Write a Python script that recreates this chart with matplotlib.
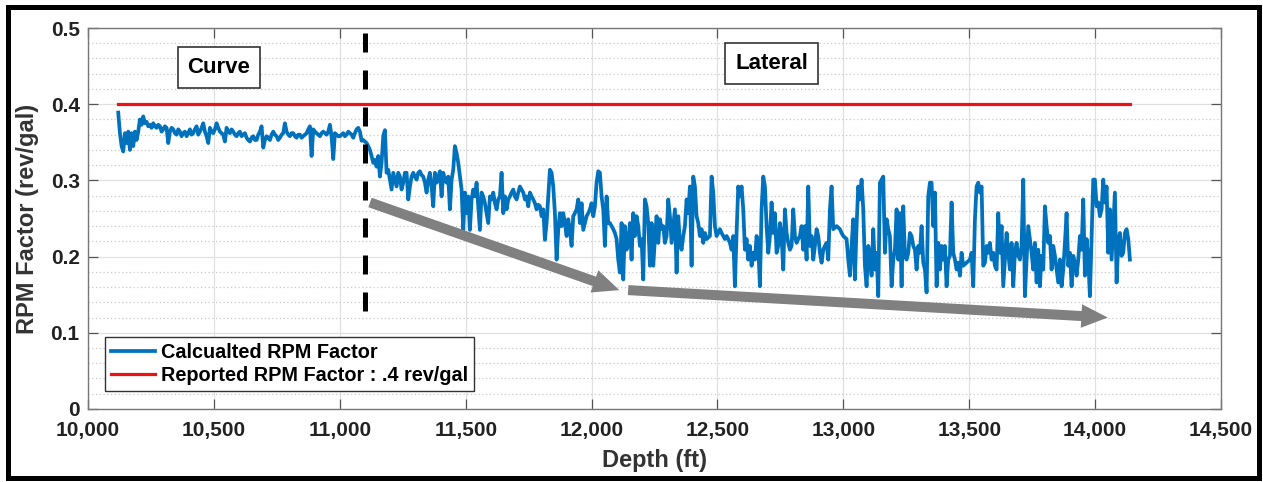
import numpy as np
import matplotlib.pyplot as plt
from matplotlib.patches import Rectangle
from matplotlib.ticker import FuncFormatter, MultipleLocator

# RPM factor, evenly spaced in depth (curve + lateral)
rpm_curve = [
    0.389, 0.362, 0.345, 0.338, 0.362, 0.349, 0.364, 0.340, 0.362, 0.345,
    0.364, 0.353, 0.364, 0.380, 0.373, 0.384, 0.375, 0.377, 0.371, 0.373,
    0.369, 0.375, 0.371, 0.369, 0.373, 0.371, 0.364, 0.367, 0.371, 0.369,
    0.349, 0.364, 0.369, 0.367, 0.362, 0.360, 0.367, 0.364, 0.358, 0.362,
    0.364, 0.358, 0.362, 0.367, 0.360, 0.362, 0.367, 0.371, 0.360, 0.364,
    0.369, 0.375, 0.364, 0.358, 0.349, 0.369, 0.364, 0.362, 0.367, 0.375,
    0.369, 0.364, 0.362, 0.360, 0.351, 0.369, 0.364, 0.362, 0.367, 0.364,
    0.360, 0.358, 0.362, 0.364, 0.358, 0.360, 0.362, 0.356, 0.353, 0.351,
    0.356, 0.358, 0.353, 0.353, 0.360, 0.364, 0.371, 0.343, 0.353, 0.358,
    0.356, 0.353, 0.360, 0.364, 0.360, 0.358, 0.353, 0.356, 0.360, 0.362,
    0.375, 0.364, 0.360, 0.358, 0.362, 0.362, 0.358, 0.356, 0.360, 0.360,
    0.356, 0.358, 0.360, 0.362, 0.367, 0.371, 0.332, 0.367, 0.364, 0.362,
    0.360, 0.358, 0.362, 0.364, 0.362, 0.360, 0.364, 0.373, 0.358, 0.328,
    0.362, 0.360, 0.358, 0.358, 0.360, 0.362, 0.358, 0.360, 0.364, 0.362,
    0.360, 0.356, 0.362, 0.367, 0.369, 0.364, 0.352,
]
rpm_lateral_1 = [
    0.353, 0.351, 0.349, 0.345, 0.340, 0.332, 0.323, 0.327, 0.318, 0.332,
    0.305, 0.323, 0.358, 0.366, 0.310, 0.314, 0.301, 0.288, 0.310, 0.301,
    0.292, 0.310, 0.305, 0.288, 0.297, 0.310, 0.310, 0.275, 0.292, 0.305,
    0.310, 0.305, 0.301, 0.310, 0.312, 0.307, 0.305, 0.297, 0.284, 0.301,
    0.310, 0.292, 0.266, 0.310, 0.297, 0.305, 0.312, 0.279, 0.310, 0.301,
    0.297, 0.305, 0.262, 0.301, 0.314, 0.345, 0.336, 0.323, 0.305, 0.288,
    0.235, 0.284, 0.257, 0.279, 0.235, 0.275, 0.288, 0.279, 0.297, 0.266,
    0.235, 0.284, 0.279, 0.270, 0.257, 0.244, 0.279, 0.275, 0.284, 0.270,
    0.262, 0.275, 0.279, 0.310, 0.257, 0.279, 0.262, 0.275, 0.279, 0.284,
    0.288, 0.279, 0.275, 0.284, 0.292, 0.288, 0.284, 0.275, 0.279, 0.266,
    0.284, 0.279, 0.275, 0.270, 0.262, 0.268, 0.266, 0.253, 0.262, 0.222,
    0.244, 0.279, 0.314, 0.310, 0.292, 0.257, 0.196, 0.235, 0.257, 0.240,
    0.257, 0.244, 0.227, 0.249, 0.235, 0.214, 0.253, 0.257, 0.262, 0.275,
    0.244, 0.270, 0.235, 0.244, 0.253, 0.257, 0.262, 0.270, 0.253, 0.266,
    0.297, 0.312, 0.310, 0.279, 0.262, 0.214, 0.279, 0.244,
]
rpm_lateral_2 = [
    0.244, 0.240, 0.236, 0.231, 0.223, 0.196, 0.179, 0.244, 0.170, 0.240,
    0.209, 0.218, 0.244, 0.196, 0.257, 0.227, 0.253, 0.240, 0.214, 0.223,
    0.170, 0.275, 0.266, 0.244, 0.188, 0.244, 0.188, 0.223, 0.253, 0.218,
    0.249, 0.236, 0.240, 0.218, 0.227, 0.275, 0.253, 0.218, 0.240, 0.262,
    0.179, 0.253, 0.218, 0.209, 0.227, 0.240, 0.275, 0.257, 0.292, 0.188,
    0.305, 0.292, 0.253, 0.244, 0.227, 0.236, 0.218, 0.231, 0.223, 0.225,
    0.227, 0.305, 0.284, 0.240, 0.227, 0.231, 0.236, 0.231, 0.227, 0.223,
    0.227, 0.223, 0.218, 0.209, 0.227, 0.161, 0.231, 0.292, 0.279, 0.292,
    0.262, 0.209, 0.223, 0.196, 0.214, 0.188, 0.205, 0.196, 0.227, 0.214,
    0.161, 0.262, 0.305, 0.292, 0.240, 0.205, 0.227, 0.271, 0.231, 0.257,
    0.205, 0.214, 0.244, 0.227, 0.183, 0.262, 0.231, 0.218, 0.209, 0.214,
    0.262, 0.227, 0.218, 0.223, 0.227, 0.240, 0.209, 0.240, 0.196, 0.292,
    0.214, 0.227, 0.196, 0.214, 0.236, 0.227, 0.205, 0.192, 0.209, 0.214,
    0.218, 0.196, 0.262, 0.292, 0.236, 0.238, 0.240, 0.238, 0.236, 0.231,
    0.227, 0.225, 0.223, 0.196, 0.175, 0.214, 0.249, 0.170, 0.240, 0.292,
    0.275, 0.301, 0.262, 0.188, 0.161, 0.214,
]
rpm_lateral_3 = [
    0.201, 0.175, 0.236, 0.183, 0.205, 0.148, 0.297, 0.301, 0.305, 0.205,
    0.249, 0.236, 0.227, 0.161, 0.196, 0.209, 0.262, 0.196, 0.257, 0.161,
    0.266, 0.201, 0.196, 0.205, 0.231, 0.227, 0.214, 0.209, 0.183, 0.214,
    0.205, 0.240, 0.192, 0.183, 0.153, 0.279, 0.297, 0.297, 0.240, 0.284,
    0.161, 0.218, 0.183, 0.214, 0.196, 0.214, 0.161, 0.196, 0.201, 0.271,
    0.205, 0.196, 0.183, 0.192, 0.175, 0.205, 0.188, 0.190, 0.192, 0.194,
    0.196, 0.205, 0.161, 0.249, 0.292, 0.297, 0.284, 0.292, 0.188, 0.192,
    0.214, 0.205, 0.218, 0.196, 0.205, 0.188, 0.183, 0.257, 0.205, 0.240,
    0.161, 0.196, 0.231, 0.205, 0.183, 0.218, 0.161, 0.205, 0.218, 0.201,
    0.196, 0.214, 0.301, 0.148, 0.196, 0.240, 0.223, 0.205, 0.183, 0.218,
    0.166, 0.209, 0.161, 0.201, 0.183, 0.266, 0.240, 0.218, 0.227, 0.183,
    0.214, 0.201, 0.183, 0.166, 0.196, 0.161, 0.183, 0.218, 0.257, 0.188,
    0.205, 0.161, 0.201, 0.192, 0.175, 0.196, 0.227, 0.209, 0.275, 0.175,
    0.223, 0.196, 0.148, 0.223, 0.301, 0.301, 0.266, 0.271, 0.253, 0.262,
    0.301, 0.271, 0.292, 0.205, 0.262, 0.196, 0.240, 0.284, 0.166, 0.218,
    0.231, 0.201, 0.205, 0.231, 0.236, 0.223, 0.196,
]
depth_first, depth_last = 10120, 14138
reported_rpm = 0.4
curve_end = 11100  # kick-off to lateral

xticks = np.arange(10000, 14501, 500)
yticks = [0, 0.1, 0.2, 0.3, 0.4, 0.5]
ytick_labels = ['0', '0.1', '0.2', '0.3', '0.4', '0.5']

rpm = np.array(rpm_curve + rpm_lateral_1 + rpm_lateral_2 + rpm_lateral_3)
depth = np.linspace(depth_first, depth_last, len(rpm))

plt.rcParams['font.family'] = ['Liberation Sans', 'DejaVu Sans']
plt.rcParams['font.weight'] = 'bold'
plt.rcParams['axes.labelweight'] = 'bold'

fig = plt.figure(figsize=(12.63, 4.82), dpi=100)
ax = fig.add_axes([0.0697, 0.1515, 0.8971, 0.7904])

ax.plot(depth, rpm, color='#0072BD', lw=2.7, label='Calcualted RPM Factor', zorder=3)
ax.plot([depth_first, depth_last], [reported_rpm, reported_rpm], color='#EE1111', lw=2.3,
        label='Reported RPM Factor : .4 rev/gal', zorder=3)

# curve / lateral boundary
ax.plot([curve_end, curve_end], [0.494, 0.118], color='black', lw=3.6,
        dashes=(3.8, 3.6), zorder=4)

# trend arrows
arrow_style = 'simple,head_length=1.9,head_width=1.7,tail_width=0.72'
ax.annotate('', xy=(12110, 0.156), xytext=(11120, 0.271),
            arrowprops=dict(arrowstyle=arrow_style, color='#808080', lw=0, mutation_scale=10,
                            shrinkA=0, shrinkB=0), zorder=5)
ax.annotate('', xy=(14050, 0.120), xytext=(12145, 0.156),
            arrowprops=dict(arrowstyle=arrow_style, color='#808080', lw=0, mutation_scale=10,
                            shrinkA=0, shrinkB=0), zorder=5)

box = dict(boxstyle='square,pad=0.45', fc='white', ec='#333333', lw=1.2)
ax.text(10520, 0.448, 'Curve', fontsize=16, ha='center', va='center', bbox=box, zorder=6)
ax.text(12716, 0.454, 'Lateral', fontsize=16, ha='center', va='center', bbox=box, zorder=6)

ax.set_xlim(10000, 14500)
ax.set_ylim(0, 0.5)
ax.set_xticks(xticks)
ax.xaxis.set_major_formatter(FuncFormatter(lambda v, p: f'{int(v):,}'))
ax.set_yticks(yticks)
ax.set_yticklabels(ytick_labels)
ax.yaxis.set_minor_locator(MultipleLocator(0.02))

ax.grid(True, which='major', color='#e0e0e0', lw=0.9, zorder=0)
ax.grid(True, which='minor', axis='y', color='#c8c8c8', lw=0.9, linestyle=(0, (1, 2)), zorder=0)
ax.set_axisbelow(True)
ax.tick_params(which='major', direction='in', length=7, width=0.9, color='#555555',
               labelsize=15, labelcolor='#222222', top=True, right=True, pad=6)
ax.tick_params(which='minor', length=0)
ax.tick_params(axis='x', pad=9)
for s in ax.spines.values():
    s.set_color('#777777')
    s.set_linewidth(1.0)

ax.set_xlabel('Depth (ft)', fontsize=17, color='#333333', labelpad=6)
ax.set_ylabel('RPM Factor (rev/gal)', fontsize=17, color='#333333', labelpad=8)

leg = ax.legend(loc='lower left', bbox_to_anchor=(0.015, 0.047), borderaxespad=0,
                fontsize=14.3, frameon=True, fancybox=False, edgecolor='#333333',
                framealpha=1, handlelength=2.2, handletextpad=0.3, labelspacing=0.2,
                borderpad=0.3)
leg.get_frame().set_linewidth(1.0)
leg.set_zorder(7)

# black frame around the whole picture
fig.add_artist(Rectangle((8 / 1263, 4 / 482), 1251 / 1263, 471 / 482, transform=fig.transFigure,
                         fill=False, ec='black', lw=3.6))

fig.savefig('out.png', dpi=100)
plt.close(fig)
